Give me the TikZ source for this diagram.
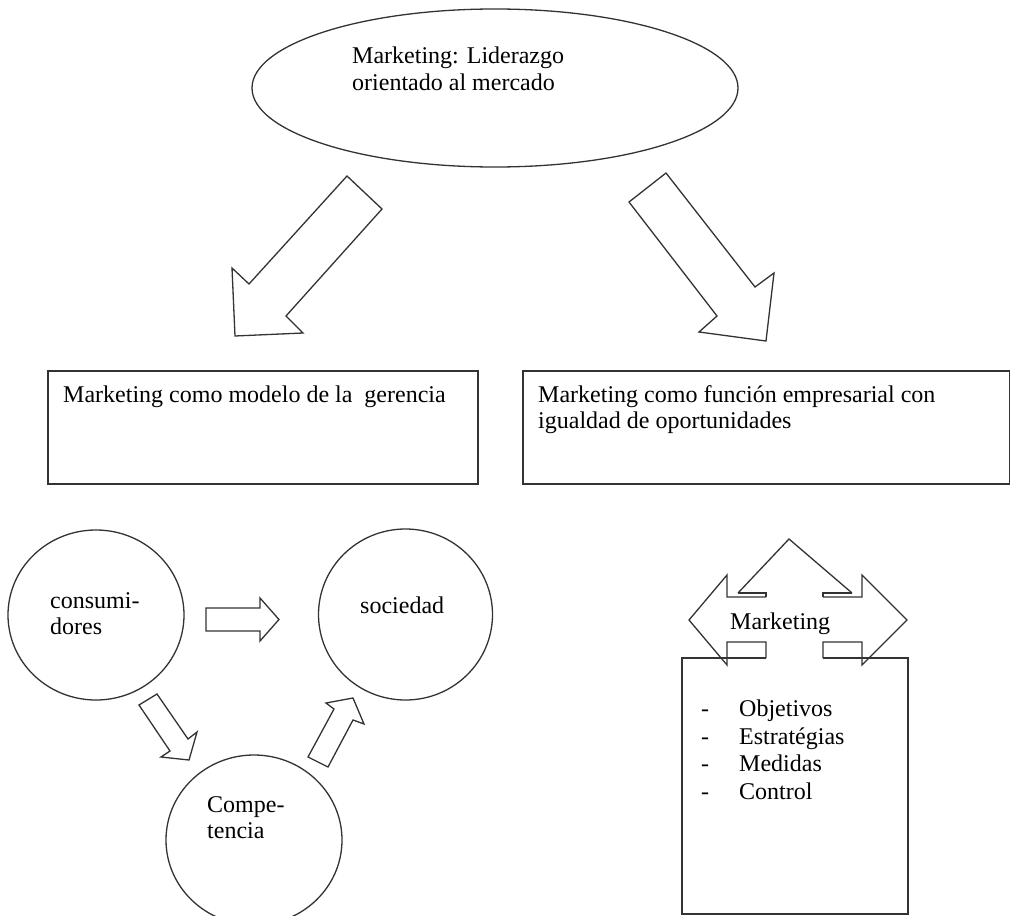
\documentclass[tikz,border=0pt]{standalone}
\usepackage{fontspec}
\setmainfont{Liberation Serif}
\begin{document}
\begin{tikzpicture}[x=1pt,y=-1pt,
  ln/.style={draw=black!80,line width=1.3pt,line join=miter},
  txt/.style={anchor=base west,inner sep=0pt,font=\fontsize{24}{27.5}\selectfont,text=black}]
\useasboundingbox (0,0) rectangle (1011,915);
\clip (0,0) rectangle (1011,915);
% top ellipse
\draw[ln] (495,88) ellipse [x radius=243, y radius=79];
\node[txt] (top) at (352,64) {Marketing: Liderazgo};
\node[txt] (top2) at (352,91) {orientado al mercado};
% big arrows
\draw[ln] (347,176) -- (382,209) -- (286,316) -- (303,333) -- (235,336) -- (232,268) -- (249,284) -- cycle;
\draw[ln] (666,173) -- (629,202) -- (717,316) -- (699,332) -- (766,341) -- (774,273) -- (755,287) -- cycle;
% boxes
\draw[ln] (48,371) rectangle (478,484);
\node[txt] (lbox) at (63,402) {Marketing como modelo de la~ gerencia};
\draw[ln] (523,371) rectangle (1009.5,484);
\node[txt] (rbox1) at (538,402) {Marketing como función empresarial con};
\node[txt] (rbox2) at (538,428) {igualdad de oportunidades};
% circles
\draw[ln] (96,615) ellipse [x radius=88, y radius=85];
\node[txt] (cons1) at (50,608) {consumi-};
\node[txt] (cons2) at (50,634) {dores};
\draw[ln] (405.5,614.5) ellipse [x radius=87, y radius=85.5];
\node[txt] (soc) at (360,613) {sociedad};
\draw[ln] (254,840) ellipse [x radius=88, y radius=85];
\node[txt] (comp1) at (207,812) {Compe-};
\node[txt] (comp2) at (207,838) {tencia};
% small arrows
\draw[ln] (206,608) -- (260,608) -- (260,598) -- (279,619.5) -- (260,641) -- (260,631) -- (206,631) -- cycle;
\draw[ln] (139,705) -- (157,694) -- (188,739) -- (197,732) -- (189,760) -- (161,757) -- (170,751) -- cycle;
\draw[ln] (308,757) -- (328,767) -- (353,720) -- (364,724) -- (353,698) -- (326,703) -- (334,709) -- cycle;
% right composite shape
\draw[ln] (738,593) -- (789,539) -- (852,593);
\draw[ln] (738,593) -- (766,593) -- (766,597);
\draw[ln] (823,597) -- (823,593) -- (852,593);
\draw[ln] (766,597) -- (727,597) -- (727,575) -- (689,620) -- (727,665) -- (727,642) -- (766,642) -- (766,658);
\draw[ln] (823,597) -- (862,597) -- (862,575) -- (907,620) -- (862,665) -- (862,642) -- (823,642) -- (823,658);
\draw[ln] (766,658) -- (682,658) -- (682,914) -- (908,914) -- (908,658) -- (823,658);
\node[txt] (mk) at (730,629) {Marketing};
\node[txt] (d1) at (701,716) {-};
\node[txt] (d2) at (701,744) {-};
\node[txt] (d3) at (701,771) {-};
\node[txt] (d4) at (701,799) {-};
\node[txt] (l1) at (739,716) {Objetivos};
\node[txt] (l2) at (739,744) {Estratégias};
\node[txt] (l3) at (739,771) {Medidas};
\node[txt] (l4) at (739,799) {Control};
\end{tikzpicture}
\end{document}
